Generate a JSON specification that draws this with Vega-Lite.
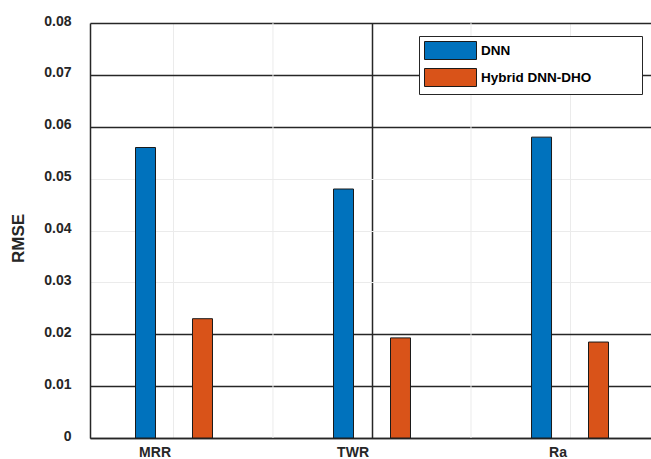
{
  "$schema": "https://vega.github.io/schema/vega-lite/v6.json",
  "width": 561,
  "height": 415,
  "autosize": {"type": "none"},
  "padding": {"left": 90, "top": 23, "right": 0, "bottom": 21},
  "background": "white",
  "config": {
    "view": {"stroke": null},
    "font": "Liberation Sans"
  },
  "datasets": {
    "rmse": [
      {"metric": "MRR", "model": "DNN", "rmse": 0.056},
      {"metric": "MRR", "model": "Hybrid DNN-DHO", "rmse": 0.023},
      {"metric": "TWR", "model": "DNN", "rmse": 0.048},
      {"metric": "TWR", "model": "Hybrid DNN-DHO", "rmse": 0.0193},
      {"metric": "Ra", "model": "DNN", "rmse": 0.058},
      {"metric": "Ra", "model": "Hybrid DNN-DHO", "rmse": 0.0185}
    ],
    "mids": [
      {"metric": "MRR"},
      {"metric": "TWR"}
    ]
  },
  "layer": [
    {
      "data": {"name": "mids"},
      "mark": {"type": "rule", "color": "#ebebeb", "strokeWidth": 1},
      "encoding": {
        "x": {"field": "metric", "type": "nominal", "bandPosition": 1.1111,
              "scale": {"domain": ["MRR", "TWR", "Ra"]}}
      }
    },
    {
      "data": {"name": "rmse"},
      "mark": {"type": "bar", "stroke": "#1a1a1a", "strokeWidth": 1},
      "encoding": {
        "x": {
          "field": "metric", "type": "nominal",
          "scale": {"domain": ["MRR", "TWR", "Ra"], "paddingInner": 0.182, "paddingOuter": 0.0076, "align": 1},
          "axis": {
            "title": null, "labelAngle": 0, "labelFontSize": 14, "labelFontWeight": "bold",
            "labelColor": "#262626", "labelOffset": -3, "labelPadding": 14,
            "domainColor": "#262626", "domainWidth": 1.5, "ticks": false,
            "grid": true, "bandPosition": 0.5,
            "gridColor": {"condition": {"test": "datum.value === 'TWR'", "value": "#262626"}, "value": "#ebebeb"},
            "gridWidth": {"condition": {"test": "datum.value === 'TWR'", "value": 1.5}, "value": 1}
          }
        },
        "xOffset": {
          "field": "model", "type": "nominal",
          "scale": {"domain": ["DNN", "Hybrid DNN-DHO"], "paddingInner": 0.6491, "paddingOuter": 0.7456}
        },
        "y": {
          "field": "rmse", "type": "quantitative",
          "scale": {"domain": [0, 0.08], "nice": false, "zero": true},
          "axis": {
            "title": "RMSE", "titleFontSize": 17, "titleFontWeight": "bold", "titleColor": "#262626",
            "titleAngle": 270, "titleX": -67, "titleY": 215, "titleBaseline": "alphabetic",
            "values": [0, 0.01, 0.02, 0.03, 0.04, 0.05, 0.06, 0.07, 0.08],
            "labelExpr": "datum.value == 0 ? '0' : format(datum.value, '.2f')",
            "labelFontSize": 14, "labelFontWeight": "bold", "labelColor": "#262626",
            "labelPadding": 19, "labelOffset": -2,
            "ticks": false, "domainColor": "#262626", "domainWidth": 1.5,
            "grid": true,
            "gridColor": {"condition": {"test": "datum.value > 0.025 && datum.value < 0.055", "value": "#ebebeb"}, "value": "#262626"},
            "gridWidth": {"condition": {"test": "datum.value > 0.025 && datum.value < 0.055", "value": 1}, "value": 1.5}
          }
        },
        "color": {
          "field": "model", "type": "nominal",
          "scale": {"domain": ["DNN", "Hybrid DNN-DHO"], "range": ["#0072BD", "#D95319"]},
          "legend": {
            "title": null, "orient": "none", "legendX": 329, "legendY": 13,
            "symbolType": "M-1,-1H4.778V1H-1Z M22.3,0", "symbolSize": 324,
            "symbolStrokeColor": "#1a1a1a", "symbolStrokeWidth": 1, "symbolOpacity": 1,
            "labelFontSize": 13.5, "labelFontWeight": "bold", "labelColor": "#000000",
            "labelOffset": 38, "rowPadding": 4, "padding": 5,
            "fillColor": "white", "strokeColor": "#262626"
          }
        }
      }
    }
  ]
}
